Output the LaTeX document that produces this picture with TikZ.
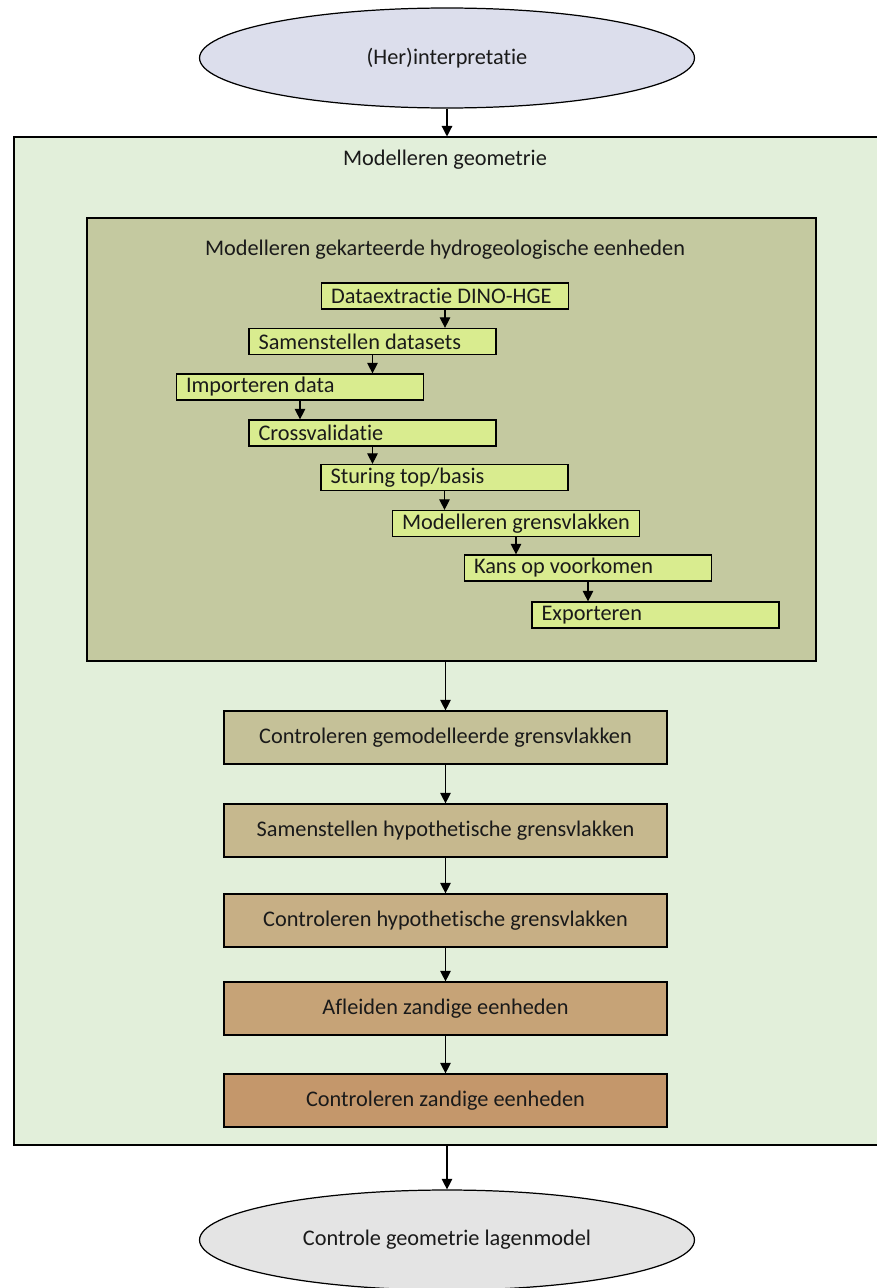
\documentclass[tikz,border=0pt]{standalone}
\usepackage{fontspec}
\setmainfont{Carlito}[Ligatures={NoCommon}]
\usetikzlibrary{arrows.meta,shapes.geometric}

\definecolor{ellTop}{HTML}{DCDEEC}
\definecolor{ellBot}{HTML}{E4E4E4}
\definecolor{outerGreen}{HTML}{E2EFDA}
\definecolor{innerOlive}{HTML}{C4C9A0}
\definecolor{stepGreen}{HTML}{D9EC8F}
\definecolor{fillA}{HTML}{C5C198}
\definecolor{fillB}{HTML}{C6B88E}
\definecolor{fillC}{HTML}{C7AF85}
\definecolor{fillD}{HTML}{C6A377}
\definecolor{fillE}{HTML}{C4976B}
\definecolor{ink}{HTML}{1A1A1A}

\begin{document}
\begin{tikzpicture}[x=0.02cm,y=-0.02cm,line width=0.7pt,
    font=\fontsize{12.7}{14}\selectfont, text=ink,
    arr/.style={-{Triangle[length=6pt,width=6pt]}},
    term/.style={ellipse,draw,minimum width=9.9cm,minimum height=2cm},
    smallbox/.style={draw,fill=stepGreen,text width=4.7cm,inner xsep=0.12cm,
        minimum height=0.52cm,inner ysep=0pt,align=flush left},
    bigbox/.style={draw,minimum width=8.86cm,minimum height=1.06cm}]
    \useasboundingbox (0,0) rectangle (876,1288);

    % frames
    \node[draw,fill=outerGreen,minimum width=17.36cm,minimum height=20.16cm] (geom) at (448,641) {};
    \node[anchor=center] (geomtitle) at (445,160) {Modelleren geometrie};
    \node[draw,fill=innerOlive,minimum width=14.58cm,minimum height=8.86cm] (hge) at (451.5,439.5) {};
    \node[anchor=center] (hgetitle) at (445,250) {Modelleren gekarteerde hydrogeologische eenheden};

    % start / end
    \node[term,fill=ellTop] (herint) at (447,58) {(Her)interpretatie};
    \node[term,fill=ellBot] (controle) at (447,1240) {Controle geometrie lagenmodel};

    % steps inside the HGE frame
    \node[smallbox] (dino)   at (445,296)   {\hspace{2pt}Dataextractie DINO-HGE};
    \node[smallbox] (sets)   at (372.5,341.5) {\hspace{2pt}Samenstellen datasets};
    \node[smallbox] (import) at (300,387)   {\hspace{2pt}Importeren data};
    \node[smallbox] (cross)  at (372.5,433) {\hspace{2pt}Crossvalidatie};
    \node[smallbox] (sturing) at (444.5,477.5) {\hspace{2pt}Sturing top/basis};
    \node[smallbox] (grens)  at (516,523.5) {\hspace{2pt}Modelleren grensvlakken};
    \node[smallbox] (kans)   at (588,568)   {\hspace{2pt}Kans op voorkomen};
    \node[smallbox] (export) at (655.5,615) {\hspace{2pt}Exporteren};

    % checks below
    \node[bigbox,fill=fillA] (ctrlgem)  at (445.5,737.5)  {Controleren gemodelleerde grensvlakken};
    \node[bigbox,fill=fillB] (samhyp)   at (445.5,830.5)  {Samenstellen hypothetische grensvlakken};
    \node[bigbox,fill=fillC] (ctrlhyp)  at (445.5,920.5)  {Controleren hypothetische grensvlakken};
    \node[bigbox,fill=fillD] (afleiden) at (445.5,1008.5) {Afleiden zandige eenheden};
    \node[bigbox,fill=fillE] (ctrlzand) at (445.5,1100.5) {Controleren zandige eenheden};

    \draw[arr] (herint.south) -- (herint.south |- geom.north);
    \foreach \a/\b in {dino/sets, sets/import, import/cross, cross/sturing,
                       sturing/grens, grens/kans, kans/export} {
        \draw[arr] (\a.south) -- (\a.south |- \b.north);
    }
    \draw[arr] (hge.south -| ctrlgem.north) -- (ctrlgem.north);
    \draw[arr] (ctrlgem) -- (samhyp);
    \draw[arr] (samhyp) -- (ctrlhyp);
    \draw[arr] (ctrlhyp) -- (afleiden);
    \draw[arr] (afleiden) -- (ctrlzand);
    \draw[arr] (geom.south -| controle.north) -- (controle.north);
\end{tikzpicture}
\end{document}
